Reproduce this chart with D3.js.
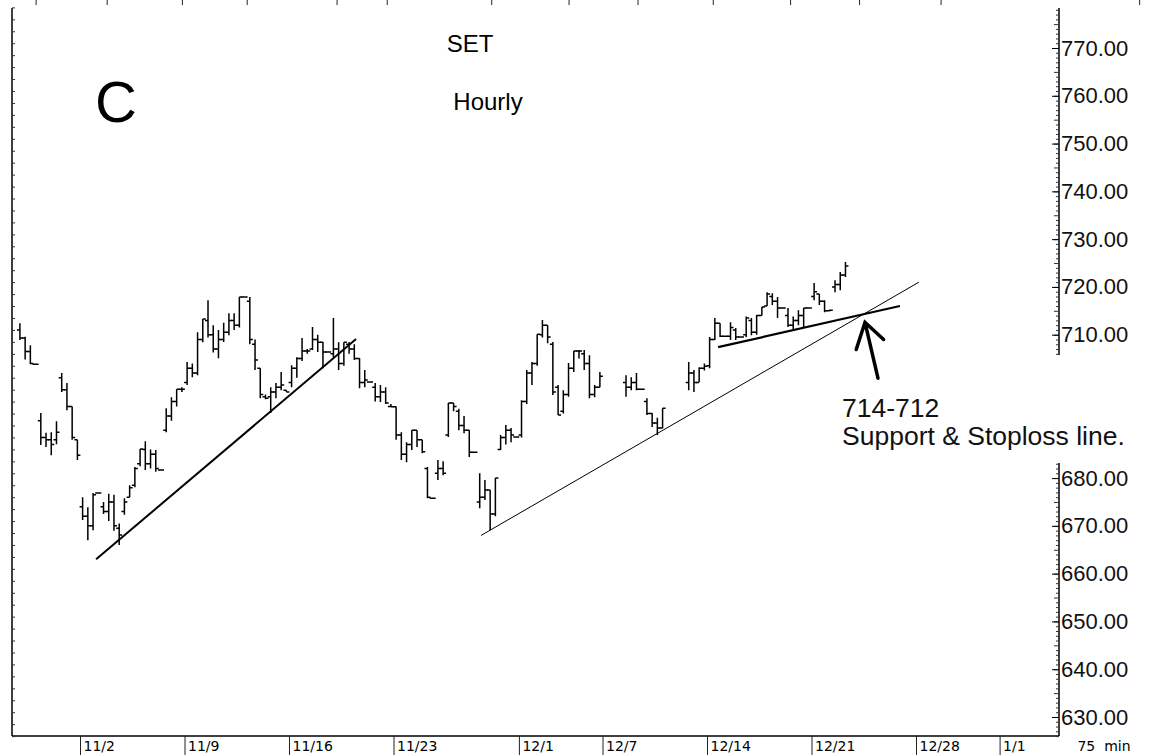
<!DOCTYPE html>
<html>
<head>
<meta charset="utf-8">
<script src="https://cdn.jsdelivr.net/npm/d3@7"></script>
<style>
  body { margin: 0; background: #fff; }
  svg { display: block; }
</style>
</head>
<body>
<div id="chart"></div>
<script>

// trading-day index: 0 = 11/2, one unit per session (weekends removed)
var tickDays = [0, 5, 10, 15, 21, 25, 30, 35, 40, 44];
var tickLabels = ["11/2", "11/9", "11/16", "11/23", "12/1", "12/7", "12/14", "12/21", "12/28", "1/1"];
var priceTicks = [630, 640, 650, 660, 670, 680, 690, 700, 710, 720, 730, 740, 750, 760, 770];
var hiddenTicks = [690, 700]; // under the note box
var topTickDays = [-2.1, 1.3, 4.9, 8.0, 12.3, 14.7, 19.7, 23.4, 26.7, 30.3, 34.0, 37.3, 41.2, 50.7];

// sessions that have bars (12/7 and 12/10 were holidays), 4 x 75 min bars each
var sessionDays = [-3, -2, -1, 0, 1, 2, 3, 4, 5, 6, 7, 8, 9, 10, 11, 12, 13, 14, 15, 16, 17, 18, 19,
  20, 21, 22, 23, 24, 26, 27, 29, 30, 31, 32, 33, 34, 35, 36];

var barOpen = [
  711, 709.3, 706.5, 703.8,
  692, 688.5, 688, 688,
  701, 698.5, 695, 688,
  674, 672, 670, 676.9,
  674, 673, 675, 669.5,
  673, 676, 678.5, 683,
  686, 683, 685, 681.7,
  690, 693, 696, 698.6,
  700, 703, 702, 709,
  713, 710, 707, 709,
  710.5, 713, 712, 717.9,
  717, 708, 703, 697,
  697, 698, 699, 698.4,
  700, 703, 705, 706.6,
  707, 709, 708.4, 706.4,
  706, 707, 704, 708,
  707, 705, 700, 700.1,
  699, 697, 698, 695,
  694.9, 689, 685, 687,
  690, 688, 682, 675.8,
  681, 682, 689, 695.7,
  694, 691, 690, 685.4,
  675, 676, 677.5, 672.5,
  686, 688.5, 690, 688.6,
  689, 696, 702, 704,
  710, 712, 708, 699,
  694, 697.5, 703, 706.6,
  706, 704, 697.5, 699,
  700, 699, 700, 698.6,
  696, 693.5, 691.5, 690.5,
  700, 702, 700, 703,
  703.5, 709, 712.4, 709.7,
  709.7, 711, 709.5, 710,
  713, 710.5, 714, 716,
  718, 717, 715.6, 714,
  712, 713, 714, 715.6,
  718, 718.5, 717, 715,
  720, 720.5, 722.5
];
var barHigh = [
  712.4, 709.6, 707.8, 703.8,
  693.6, 689.5, 689.6, 691.9,
  702, 699.9, 695, 688,
  676, 673.9, 676.9, 676.9,
  675, 676.7, 676.5, 670.5,
  675.8, 678.5, 682.3, 686.1,
  687.7, 686, 685.9, 681.7,
  694.6, 696.9, 698.6, 699,
  704.3, 704, 710.5, 713.3,
  717.2, 712, 711, 712.5,
  714.5, 714.5, 717.9, 717.9,
  717.9, 709, 703, 697.5,
  699, 699.9, 702.2, 698.4,
  703.6, 705.3, 709.3, 707,
  711.6, 710, 708.5, 706.4,
  713.5, 708.4, 708.4, 708.5,
  708, 705.1, 702.6, 700.1,
  699.9, 699.5, 699, 695.5,
  695, 689.6, 687.5, 690,
  690, 688, 682.3, 675.8,
  683.8, 683.5, 695.7, 695.7,
  694.5, 693, 690, 685.4,
  681, 679.6, 677.5, 680,
  689, 691.1, 690.5, 688.6,
  696.3, 702.6, 704.3, 710.1,
  713.1, 712, 708.5, 699.5,
  698.4, 704.1, 706.6, 706.8,
  706.8, 705.7, 699.5, 702.2,
  701.5, 701.1, 702, 698.6,
  696.7, 693.6, 692.6, 694.6,
  704.3, 702.6, 703.2, 704,
  709.5, 713.5, 712.4, 709.7,
  712.6, 711.4, 709.7, 713.8,
  713.5, 714.1, 715.8, 718.9,
  718.7, 717.9, 715.6, 715.6,
  713.8, 715.1, 715.6, 715.6,
  720.8, 718.5, 717.2, 715.3,
  721.4, 723.1, 725.2
];
var barLow = [
  708.9, 704.8, 703.8, 703.8,
  686.9, 686.5, 684.8, 687.1,
  698, 694.2, 688, 683.8,
  671.2, 667, 669.1, 676.9,
  672.5, 671, 669, 666,
  672.3, 676, 678.1, 682.5,
  681.7, 682, 681.3, 681.7,
  689.6, 692, 695, 698,
  699.5, 701.1, 701.5, 708.4,
  709.4, 706.3, 705.1, 708.5,
  709.9, 711, 711.5, 717.9,
  708, 702.6, 696.7, 696.5,
  693.6, 696.7, 698.4, 698,
  699, 701, 704.5, 706,
  706.8, 706.4, 703, 706.4,
  705.3, 702.6, 703.5, 706,
  704.7, 698.8, 699, 700.1,
  696, 695.9, 695.5, 694.9,
  688, 683.8, 683.3, 685.9,
  686.5, 685.2, 675.8, 675.8,
  679.6, 680.6, 688.6, 694,
  690, 689.4, 684.4, 685.4,
  673.7, 675.4, 669.1, 672,
  685.9, 687, 687.5, 688.6,
  688.5, 695.5, 699.5, 703.5,
  709.4, 708.2, 697.4, 693.2,
  693.5, 697, 702.2, 705,
  702.6, 696.7, 696.9, 699,
  697, 698.4, 698.4, 698.6,
  693.2, 690.7, 689, 690.4,
  698.4, 698, 700.1, 702.5,
  703, 708.9, 709.5, 709.7,
  708.9, 708.9, 709.5, 709.5,
  709.9, 710, 714, 716,
  716.2, 713.5, 715.6, 711.6,
  711, 712, 711.6, 715.6,
  717.2, 716.2, 714.7, 714.9,
  718.9, 719.3, 722.1
];
var barClose = [
  709.3, 706.5, 704, 703.8,
  688.5, 688, 687, 689.6,
  698.5, 695, 688.5, 684.8,
  672, 670, 676.5, 676.9,
  673, 675, 670, 668.1,
  675, 678, 682, 686.1,
  683, 685, 682, 681.7,
  693, 696, 698.6, 698.6,
  703, 702, 709, 713.3,
  710, 707, 709, 710.5,
  713, 712, 717.9, 717.9,
  709, 704.7, 697.5, 696.7,
  698, 699, 699.5, 698,
  703, 705, 706.6, 706.6,
  709, 708.4, 706.4, 706.4,
  707, 704, 708.4, 707,
  705, 700, 700.5, 700.1,
  697, 698, 695.7, 694.9,
  689, 685, 687, 690,
  688, 685.5, 676, 675.8,
  682, 681, 695.7, 695,
  691, 690, 685.4, 685.4,
  676, 677.5, 672.5, 680,
  688.5, 690, 689, 688.6,
  696, 702, 704, 710.1,
  712, 709.5, 698, 693.2,
  697.5, 703, 706.6, 706.6,
  704, 697.5, 699, 701.3,
  699, 700, 698.6, 698.6,
  693.5, 691.5, 690.5, 694.6,
  702, 700, 703, 703.4,
  709, 712.4, 709.7, 709.7,
  711.5, 709.5, 709.5, 713.5,
  710.5, 714, 715.8, 718.5,
  717, 715.6, 715.6, 712,
  713, 714, 715.6, 715.6,
  719, 717, 715, 715.1,
  720.5, 722.5, 724.4
];

// hand drawn trend lines [day, price]
var trendFrom = [[0.77, 663.0], [19.19, 668.0], [30.53, 707.4]];
var trendTo = [[13.21, 709.1], [40.14, 721.0], [39.23, 716.0]];
var arrowTail = [38.18, 700.9];
var arrowTip = [37.56, 712.6];
var arrowWings = [[37.14, 706.9], [38.45, 709.0]];
var noteLines = ["714-712", "Support & Stoploss line."];


var W = 1154, H = 755;
var plotLeft = 12, plotRight = 1059, plotTop = 8, plotBottom = 736;

var svg = d3.select("#chart").append("svg")
  .attr("width", W)
  .attr("height", H);

svg.append("rect")
  .attr("width", W)
  .attr("height", H)
  .attr("fill", "#fff");

var x = d3.scaleLinear()
  .domain([0, 44])
  .range([80, 80 + 44 * 20.9]);

var y = d3.scaleLinear()
  .domain([630, 770])
  .range([717, 48]);

// frame lines
svg.append("line")
  .attr("x1", plotLeft).attr("x2", plotLeft)
  .attr("y1", plotTop).attr("y2", plotBottom)
  .attr("stroke", "#000").attr("stroke-width", 1.5);
svg.append("line")
  .attr("x1", plotLeft).attr("x2", plotRight)
  .attr("y1", plotBottom).attr("y2", plotBottom)
  .attr("stroke", "#000").attr("stroke-width", 1.5);
svg.append("line")
  .attr("x1", plotRight).attr("x2", plotRight)
  .attr("y1", plotTop).attr("y2", plotBottom)
  .attr("stroke", "#000").attr("stroke-width", 1.5);

// left minor ticks
var leftMinor = d3.range(626, 779, 2.5);
svg.append("g")
  .attr("transform", "translate(" + plotLeft + ",0)")
  .call(d3.axisRight(y).tickValues(leftMinor).tickSize(0).tickFormat(""))
  .call(function(g) {
    g.select(".domain").remove();
    g.selectAll(".tick line")
      .attr("x2", function(d) { return d % 5 == 0 ? 5 : 3; })
      .attr("stroke", "#333");
  });

// right axis, ticks pointing into the plot
var rightMinor = d3.range(626, 779, 1);
svg.append("g")
  .attr("transform", "translate(" + plotRight + ",0)")
  .call(d3.axisRight(y).tickValues(rightMinor).tickSize(0).tickFormat(""))
  .call(function(g) {
    g.select(".domain").remove();
    g.selectAll(".tick line")
      .attr("x2", function(d) { return d % 5 == 0 ? -5 : -3; })
      .attr("stroke", "#333");
  });

var shownTicks = priceTicks.filter(function(v) { return hiddenTicks.indexOf(v) < 0; });
svg.append("g")
  .attr("transform", "translate(" + plotRight + ",0)")
  .call(d3.axisRight(y).tickValues(shownTicks).tickSizeInner(-7).tickSizeOuter(0)
    .tickPadding(2).tickFormat(d3.format(".2f")))
  .call(function(g) {
    g.select(".domain").remove();
    g.selectAll("text")
      .attr("font-family", "Liberation Sans, Arial, sans-serif")
      .attr("font-size", 22)
      .attr("fill", "#111");
  });

// bottom date axis, labels start right of tick
svg.append("g")
  .attr("transform", "translate(0," + plotBottom + ")")
  .call(d3.axisBottom(x).tickValues(tickDays).tickSizeInner(19).tickSizeOuter(0)
    .tickFormat(function(d, i) { return tickLabels[i]; }))
  .call(function(g) {
    g.select(".domain").remove();
    g.selectAll(".tick line").attr("stroke", "#222");
    g.selectAll("text")
      .attr("text-anchor", "start")
      .attr("x", 3)
      .attr("y", 15)
      .attr("dy", null)
      .attr("font-family", "DejaVu Sans, sans-serif")
      .attr("font-size", 14)
      .attr("fill", "#000");
  });

svg.append("text")
  .attr("x", 1104)
  .attr("y", 751)
  .attr("text-anchor", "middle")
  .attr("font-family", "DejaVu Sans, sans-serif")
  .attr("font-size", 14)
  .style("white-space", "pre")
  .text("75  min");

// small marks along the top edge
svg.append("g")
  .selectAll("line")
  .data(topTickDays)
  .enter()
  .append("line")
  .attr("x1", function(d) { return x(d); })
  .attr("x2", function(d) { return x(d); })
  .attr("y1", 0)
  .attr("y2", 5)
  .attr("stroke", "#222");

// titles
svg.append("text")
  .attr("x", 470).attr("y", 52)
  .attr("text-anchor", "middle")
  .attr("font-family", "Liberation Sans, Arial, sans-serif")
  .attr("font-size", 24)
  .text("SET");
svg.append("text")
  .attr("x", 488).attr("y", 110)
  .attr("text-anchor", "middle")
  .attr("font-family", "Liberation Sans, Arial, sans-serif")
  .attr("font-size", 24)
  .text("Hourly");
svg.append("text")
  .attr("x", 95).attr("y", 122)
  .attr("font-family", "Liberation Sans, Arial, sans-serif")
  .attr("font-size", 58)
  .text("C");

// OHLC bars
var bars = [];
for (var i = 0; i < barOpen.length; i++) {
  var day = sessionDays[Math.floor(i / 4)];
  bars.push({
    t: day + ((i % 4) + 0.5) / 4,
    o: barOpen[i], h: barHigh[i], l: barLow[i], c: barClose[i]
  });
}

var tick = 3;
svg.append("g")
  .selectAll("path")
  .data(bars)
  .enter()
  .append("path")
  .attr("fill", "none")
  .attr("stroke", "#000")
  .attr("stroke-width", 1.5)
  .attr("d", function(d) {
    var px = x(d.t);
    return "M" + px + "," + y(d.h) + "V" + y(d.l) +
      "M" + (px - tick) + "," + y(d.o) + "H" + px +
      "M" + px + "," + y(d.c) + "H" + (px + tick);
  });

// trend lines
var trendWidth = [2, 1, 2.2];
for (var k = 0; k < trendFrom.length; k++) {
  svg.append("line")
    .attr("x1", x(trendFrom[k][0]))
    .attr("y1", y(trendFrom[k][1]))
    .attr("x2", x(trendTo[k][0]))
    .attr("y2", y(trendTo[k][1]))
    .attr("stroke", "#000")
    .attr("stroke-width", trendWidth[k]);
}

// annotation, white box over the axis
svg.append("rect")
  .attr("x", 836).attr("y", 355)
  .attr("width", 312).attr("height", 108)
  .attr("fill", "#fff");

var note = svg.append("text")
  .attr("font-family", "Liberation Sans, Arial, sans-serif")
  .attr("font-size", 26.5)
  .attr("fill", "#111");
note.selectAll("tspan")
  .data(noteLines)
  .enter()
  .append("tspan")
  .attr("x", 842)
  .attr("y", function(d, i) { return 417 + i * 28; })
  .text(function(d) { return d; });

var arrowLine = d3.line()
  .x(function(d) { return x(d[0]); })
  .y(function(d) { return y(d[1]); });

svg.append("path")
  .attr("d", arrowLine([arrowTail, arrowTip]) + arrowLine([arrowWings[0], arrowTip, arrowWings[1]]))
  .attr("fill", "none")
  .attr("stroke", "#000")
  .attr("stroke-width", 3.5)
  .attr("stroke-linecap", "round")
  .attr("stroke-linejoin", "miter");

</script>
</body>
</html>
